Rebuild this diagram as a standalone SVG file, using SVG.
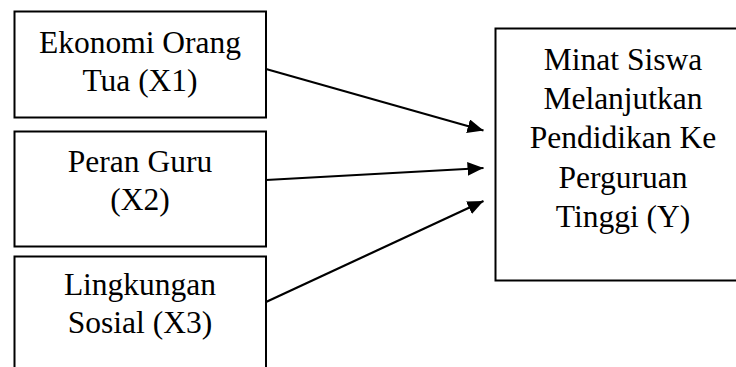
<svg xmlns="http://www.w3.org/2000/svg" width="736" height="367" viewBox="0 0 736 367">
  <style>
    .box { fill: #ffffff; stroke: #000000; stroke-width: 2; }
    .label { font-family: "Liberation Serif", "Times New Roman", serif; font-size: 31.5px; fill: #000000; text-anchor: middle; }
    .edge { stroke: #000000; stroke-width: 2.2; fill: none; marker-end: url(#arrow); }
  </style>
  <defs>
    <marker id="arrow" markerUnits="userSpaceOnUse" markerWidth="17" markerHeight="15" refX="16" refY="7" orient="auto">
      <path d="M0,0 L16,7 L0,14 Z" fill="#000000"/>
    </marker>
  </defs>
  <rect width="736" height="367" fill="#ffffff"/>

  <g id="x1">
    <rect class="box" x="14.5" y="11.5" width="251.5" height="106"/>
    <text class="label" x="140" y="53">Ekonomi Orang</text>
    <text class="label" x="140" y="91">Tua (X1)</text>
  </g>

  <g id="x2">
    <rect class="box" x="14.5" y="131.5" width="251.5" height="115"/>
    <text class="label" x="140" y="171.5">Peran Guru</text>
    <text class="label" x="140" y="209.5">(X2)</text>
  </g>

  <g id="x3">
    <rect class="box" x="14.5" y="256.5" width="251.5" height="130"/>
    <text class="label" x="140" y="295">Lingkungan</text>
    <text class="label" x="140" y="333">Sosial (X3)</text>
  </g>

  <g id="y">
    <rect class="box" x="495.5" y="28.5" width="270" height="252"/>
    <text class="label" x="623" y="70">Minat Siswa</text>
    <text class="label" x="623" y="109">Melanjutkan</text>
    <text class="label" x="623" y="148">Pendidikan Ke</text>
    <text class="label" x="623" y="188">Perguruan</text>
    <text class="label" x="623" y="227">Tinggi (Y)</text>
  </g>

  <g id="connectors">
    <line class="edge" x1="266" y1="69" x2="483.5" y2="130.5"/>
    <line class="edge" x1="266" y1="180" x2="483.5" y2="168"/>
    <line class="edge" x1="266" y1="302" x2="483.5" y2="201"/>
  </g>
</svg>
